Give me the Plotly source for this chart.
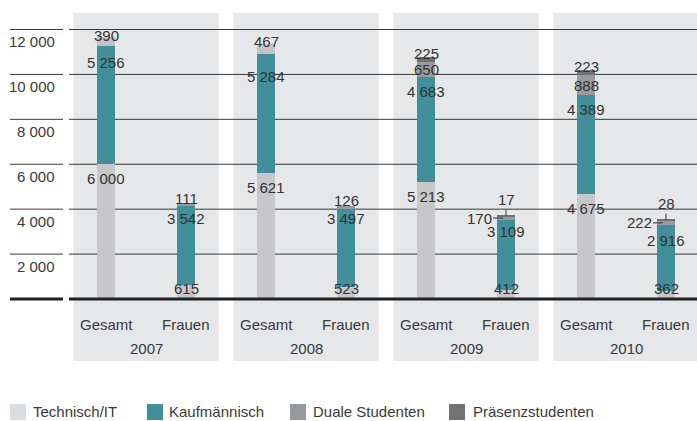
import plotly.graph_objects as go

# ---------------- data ----------------
years = ["2007", "2008", "2009", "2010"]
groups = ["Gesamt", "Frauen"]
series_names = ["Technisch/IT", "Kaufmännisch", "Duale Studenten", "Präsenzstudenten"]
technisch = [6000, 615, 5621, 523, 5213, 412, 4675, 362]
kaufmaennisch = [5256, 3542, 5284, 3497, 4683, 3109, 4389, 2916]
duale = [390, 111, 467, 126, 650, 170, 888, 222]
praesenz = [0, 0, 0, 0, 225, 17, 223, 28]
y_ticks = [2000, 4000, 6000, 8000, 10000, 12000]

# ---------------- style ----------------
W, H = 697, 421
PL, PR, PT, PB = 69, 697, 13, 299           # plot area in pixels
PX_PER_UNIT = 269.5 / 12000.0
Y_MAX = (PB - PT) / PX_PER_UNIT
X_MIN, X_MAX = -0.4625, 7.3875
FONT = "Liberation Sans, Arial, sans-serif"
TXT = "#3a3a3a"
C_PANEL = "#e6e7e9"
C_TECH = "#c7c7c9"
C_KAUF = "#418f9b"
C_DUALE = "#9a9b9e"
C_DUALE_LIGHT = "#c3c3c5"
C_PRAES = "#727275"
LEG_COLORS = ["#dcdde0", C_KAUF, "#98999c", C_PRAES]
BAR_W = 0.225

n = len(technisch)
xs = list(range(n))


def pxx(px):
    return (px - PL) / (PR - PL)


def pxy(py):
    return (PB - py) / (PB - PT)


def dx2paper(d):
    return (d - X_MIN) / (X_MAX - X_MIN)


def dy2paper(v):
    return v / Y_MAX


def fmt(v):
    return f"{v:,}".replace(",", " ")


fig = go.Figure()

duale_colors = []
for i in xs:
    if praesenz[i] == 0 and i % 2 == 0:
        duale_colors.append(C_DUALE_LIGHT)
    else:
        duale_colors.append(C_DUALE)

fig.add_trace(go.Bar(x=xs, y=technisch, width=BAR_W, marker=dict(color=C_TECH, line_width=0), name=series_names[0]))
fig.add_trace(go.Bar(x=xs, y=kaufmaennisch, width=BAR_W, marker=dict(color=C_KAUF, line_width=0), name=series_names[1]))
fig.add_trace(go.Bar(x=xs, y=duale, width=BAR_W, marker=dict(color=duale_colors, line_width=0), name=series_names[2]))
fig.add_trace(go.Bar(x=xs, y=praesenz, width=BAR_W, marker=dict(color=C_PRAES, line_width=0), name=series_names[3]))

shapes = []
# grey panels per year
for k in range(len(years)):
    c = 2 * k + 0.5
    shapes.append(dict(type="rect", xref="paper", yref="paper",
                       x0=dx2paper(c - 0.90625), x1=dx2paper(c + 0.90625),
                       y0=pxy(361), y1=pxy(13), fillcolor=C_PANEL, line_width=0, layer="below"))
# gridlines
for t in y_ticks:
    yp = dy2paper(t)
    shapes.append(dict(type="line", xref="paper", yref="paper", x0=0, x1=1, y0=yp, y1=yp,
                       line=dict(color="#3a3a3a", width=1), layer="below"))
    shapes.append(dict(type="line", xref="paper", yref="paper", x0=pxx(10), x1=pxx(63), y0=yp, y1=yp,
                       line=dict(color="#3a3a3a", width=1), layer="below"))
# baseline
for x0, x1 in [(0, 1), (pxx(10), pxx(63))]:
    shapes.append(dict(type="line", xref="paper", yref="paper", x0=x0, x1=x1, y0=dy2paper(0), y1=dy2paper(0),
                       line=dict(color="#222222", width=3), layer="above"))

annotations = []
# y tick labels
for t in y_ticks:
    annotations.append(dict(xref="paper", yref="y", x=0, y=t, xanchor="right", yanchor="middle",
                            xshift=-12, yshift=-12, text=fmt(t), showarrow=False,
                            font=dict(family=FONT, size=15, color=TXT)))
# category and year labels
for i in xs:
    annotations.append(dict(xref="x", yref="paper", x=i, y=pxy(324.5), text=groups[i % 2],
                            showarrow=False, xanchor="center", yanchor="middle",
                            font=dict(family=FONT, size=15, color=TXT)))
for k, yr in enumerate(years):
    annotations.append(dict(xref="x", yref="paper", x=2 * k + 0.5, y=pxy(348.5), text=yr,
                            showarrow=False, xanchor="center", yanchor="middle",
                            font=dict(family=FONT, size=15, color=TXT)))

lf = dict(family=FONT, size=15, color="#333333")
kauf_shift = [-16, -13, -22, -10, -15, -12, -14, -15]

for i in xs:
    gesamt = (i % 2 == 0)
    t, k, d, p = technisch[i], kaufmaennisch[i], duale[i], praesenz[i]
    top = t + k + d + p
    # technisch
    if gesamt:
        annotations.append(dict(x=i, y=t, text=fmt(t), showarrow=False, yanchor="top", yshift=-4, font=lf))
    else:
        annotations.append(dict(x=i, y=0, text=fmt(t), showarrow=False, yanchor="bottom", yshift=0, font=lf))
    # kaufmaennisch
    annotations.append(dict(x=i, y=t + k, text=fmt(k), showarrow=False, yanchor="middle",
                            yshift=kauf_shift[i], font=lf))
    if p == 0:
        # duale is the top segment
        annotations.append(dict(x=i, y=top, text=fmt(d), showarrow=False, yanchor="middle",
                                yshift=2 if gesamt else 5, font=lf))
    elif gesamt:
        annotations.append(dict(x=i, y=t + k + d / 2, text=fmt(d), showarrow=False, yanchor="middle",
                                yshift=0, font=lf))
        annotations.append(dict(x=i, y=top, text=fmt(p), showarrow=False, yanchor="middle",
                                yshift=4, font=lf))
    else:
        annotations.append(dict(x=i, y=t + k + d / 2, text=fmt(d), showarrow=True, arrowhead=0,
                                arrowwidth=1, arrowcolor="#333333", ax=-27, ay=0, standoff=3,
                                font=lf))
        annotations.append(dict(x=i, y=top, text=fmt(p), showarrow=True, arrowhead=0,
                                arrowwidth=1, arrowcolor="#333333", ax=0, ay=-16, standoff=0,
                                font=lf))

# manual legend
leg_sw_x = [10, 147, 290, 449]
leg_tx_x = [31, 167, 311, 471]
for j, name in enumerate(series_names):
    shapes.append(dict(type="rect", xref="paper", yref="paper",
                       x0=pxx(leg_sw_x[j]), x1=pxx(leg_sw_x[j] + 16), y0=pxy(420), y1=pxy(404),
                       fillcolor=LEG_COLORS[j], line_width=0))
    annotations.append(dict(xref="paper", yref="paper", x=pxx(leg_tx_x[j]), y=pxy(412), text=name,
                            showarrow=False, xanchor="left", yanchor="middle",
                            font=dict(family=FONT, size=15, color=TXT)))

fig.update_layout(
    width=W, height=H,
    margin=dict(l=PL, r=W - PR, t=PT, b=H - PB, pad=0),
    barmode="stack",
    paper_bgcolor="white", plot_bgcolor="rgba(0,0,0,0)",
    showlegend=False,
    xaxis=dict(range=[X_MIN, X_MAX], visible=False, fixedrange=True),
    yaxis=dict(range=[0, Y_MAX], visible=False, fixedrange=True),
    shapes=shapes,
    annotations=annotations,
    font=dict(family=FONT, size=15, color=TXT),
)

fig.write_html("out.html", config={"displayModeBar": False},
               post_script="document.body.style.margin='0';document.body.style.padding='0';")
